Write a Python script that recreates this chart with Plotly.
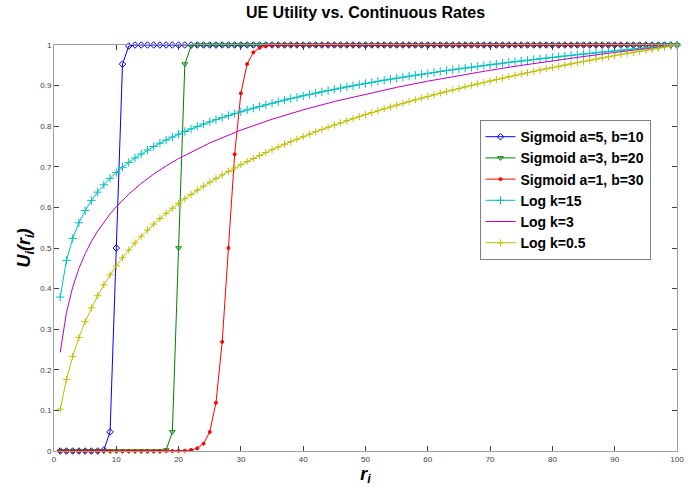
import plotly.graph_objects as go

r = list(range(1, 101))

sig_a5_b10 = [0.0]*7 + [0.0025, 0.047, 0.5, 0.953, 0.9975] + [1.0]*88
sig_a3_b20 = [0.0]*17 + [0.0025, 0.047, 0.5, 0.953, 0.9975] + [1.0]*78
sig_a1_b30 = ([0.0]*18 + [0.0001, 0.0003, 0.0009, 0.0025, 0.0067, 0.018, 0.047, 0.119, 0.269,
               0.5, 0.731, 0.881, 0.953, 0.982, 0.993, 0.9975, 0.999] + [1.0]*63)

log_k15 = [0.379, 0.4695, 0.5235, 0.5621, 0.5921, 0.6168, 0.6376, 0.6557, 0.6717, 0.6860,
           0.6989, 0.7108, 0.7217, 0.7317, 0.7411, 0.7499, 0.7582, 0.7660, 0.7733, 0.7803,
           0.7870, 0.7933, 0.7994, 0.8052, 0.8107, 0.8161, 0.8212, 0.8262, 0.8310, 0.8356,
           0.8401, 0.8444, 0.8486, 0.8527, 0.8566, 0.8605, 0.8642, 0.8679, 0.8714, 0.8749,
           0.8782, 0.8815, 0.8847, 0.8879, 0.8909, 0.8939, 0.8969, 0.8997, 0.9026, 0.9053,
           0.9080, 0.9107, 0.9133, 0.9158, 0.9183, 0.9208, 0.9232, 0.9256, 0.9279, 0.9302,
           0.9325, 0.9347, 0.9369, 0.9390, 0.9412, 0.9432, 0.9453, 0.9473, 0.9493, 0.9513,
           0.9532, 0.9551, 0.9570, 0.9589, 0.9607, 0.9625, 0.9643, 0.9661, 0.9678, 0.9695,
           0.9712, 0.9729, 0.9745, 0.9762, 0.9778, 0.9794, 0.9810, 0.9825, 0.9841, 0.9856,
           0.9871, 0.9886, 0.9901, 0.9915, 0.9930, 0.9944, 0.9958, 0.9972, 0.9986, 1.0]

r_k3 = [1, 2, 3, 4, 5, 6, 7, 8, 9, 10, 12, 14, 16, 18, 20, 25, 30, 35, 40, 45, 50,
        55, 60, 65, 70, 75, 80, 85, 90, 95, 100]
log_k3 = [0.2429, 0.3410, 0.4035, 0.4494, 0.4858, 0.5159, 0.5416, 0.5640, 0.5839, 0.6017,
          0.6327, 0.6590, 0.6819, 0.7022, 0.7203, 0.7588, 0.7904, 0.8171, 0.8403, 0.8608,
          0.8791, 0.8957, 0.9109, 0.9248, 0.9378, 0.9498, 0.9611, 0.9716, 0.9816, 0.9910, 1.0]

log_k05 = [0.1031, 0.1763, 0.2330, 0.2794, 0.3186, 0.3526, 0.3825, 0.4093, 0.4336, 0.4557,
           0.4761, 0.4949, 0.5125, 0.5289, 0.5443, 0.5588, 0.5726, 0.5856, 0.5980, 0.6099,
           0.6212, 0.6320, 0.6424, 0.6524, 0.6620, 0.6712, 0.6801, 0.6888, 0.6971, 0.7052,
           0.7130, 0.7206, 0.7280, 0.7351, 0.7421, 0.7489, 0.7555, 0.7619, 0.7682, 0.7743,
           0.7803, 0.7862, 0.7919, 0.7975, 0.8029, 0.8083, 0.8135, 0.8187, 0.8237, 0.8287,
           0.8335, 0.8382, 0.8429, 0.8475, 0.8520, 0.8564, 0.8608, 0.8650, 0.8692, 0.8734,
           0.8775, 0.8815, 0.8854, 0.8893, 0.8931, 0.8969, 0.9006, 0.9042, 0.9079, 0.9114,
           0.9149, 0.9184, 0.9218, 0.9252, 0.9285, 0.9318, 0.9350, 0.9382, 0.9414, 0.9445,
           0.9476, 0.9506, 0.9536, 0.9566, 0.9596, 0.9625, 0.9653, 0.9682, 0.9710, 0.9738,
           0.9765, 0.9792, 0.9819, 0.9846, 0.9872, 0.9898, 0.9924, 0.9950, 0.9975, 1.0]

x_ticks = [0, 10, 20, 30, 40, 50, 60, 70, 80, 90, 100]
y_ticks = [0, 0.1, 0.2, 0.3, 0.4, 0.5, 0.6, 0.7, 0.8, 0.9, 1]
y_tick_labels = ["0", "0.1", "0.2", "0.3", "0.4", "0.5", "0.6", "0.7", "0.8", "0.9", "1"]

fig = go.Figure()

def add(x, y, name, color, symbol=None, msize=5, mode="lines+markers", lw=1):
    kw = dict(x=x, y=y, name="<b>" + name + "</b>", mode=mode,
              line=dict(color=color, width=lw), cliponaxis=False)
    if symbol:
        kw["marker"] = dict(symbol=symbol, size=msize, color=color,
                            line=dict(color=color, width=1))
    fig.add_trace(go.Scatter(**kw))

add(r, sig_a5_b10, "Sigmoid a=5, b=10", "#0000ff", "diamond-open", 5)
add(r, sig_a3_b20, "Sigmoid a=3, b=20", "#008000", "triangle-down-open", 5)
add(r, sig_a1_b30, "Sigmoid a=1, b=30", "#ff0000", "circle", 3)
add(r, log_k15, "Log k=15", "#00bfbf", "cross-thin-open", 6)
add(r_k3, log_k3, "Log k=3", "#bf00bf", mode="lines")
add(r, log_k05, "Log k=0.5", "#bfbf00", "cross-thin-open", 5)

axis_common = dict(showline=True, linecolor="#a0a0a0", linewidth=1, mirror="ticks",
                   ticks="inside", ticklen=5, tickcolor="#404040", showgrid=False,
                   zeroline=False, automargin=False,
                   tickfont=dict(family="Liberation Sans", size=8, color="#404040"))

fig.update_layout(
    width=699, height=492,
    margin=dict(l=54, r=22, t=45, b=41),
    paper_bgcolor="white", plot_bgcolor="white",
    title=dict(text="<b>UE Utility vs. Continuous Rates</b>", x=0.5, xanchor="center",
               xref="paper", yref="container", y=0.975, yanchor="middle",
               font=dict(family="Liberation Sans", size=16, color="black")),
    xaxis=dict(range=[0, 100], tickvals=x_ticks, title=dict(
        text="<b><i>r<sub>i</sub></i></b>", font=dict(family="Liberation Sans", size=18, color="black"),
        standoff=0), **axis_common),
    yaxis=dict(range=[0, 1], tickvals=y_ticks, ticktext=y_tick_labels, title=dict(
        text="<b><i>U<sub>i</sub>(r<sub>i</sub>)</i></b>", font=dict(family="Liberation Sans", size=18, color="black"),
        standoff=4), **axis_common),
    legend=dict(x=0.683, y=0.815, xanchor="left", yanchor="top",
                bgcolor="white", bordercolor="#808080", borderwidth=1,
                font=dict(family="Liberation Sans", size=14, color="black"),
                tracegroupgap=0, itemwidth=30),
    showlegend=True,
)

fig.write_html("out.html", config={"displayModeBar": False},
               post_script="document.body.style.margin='0px';")
